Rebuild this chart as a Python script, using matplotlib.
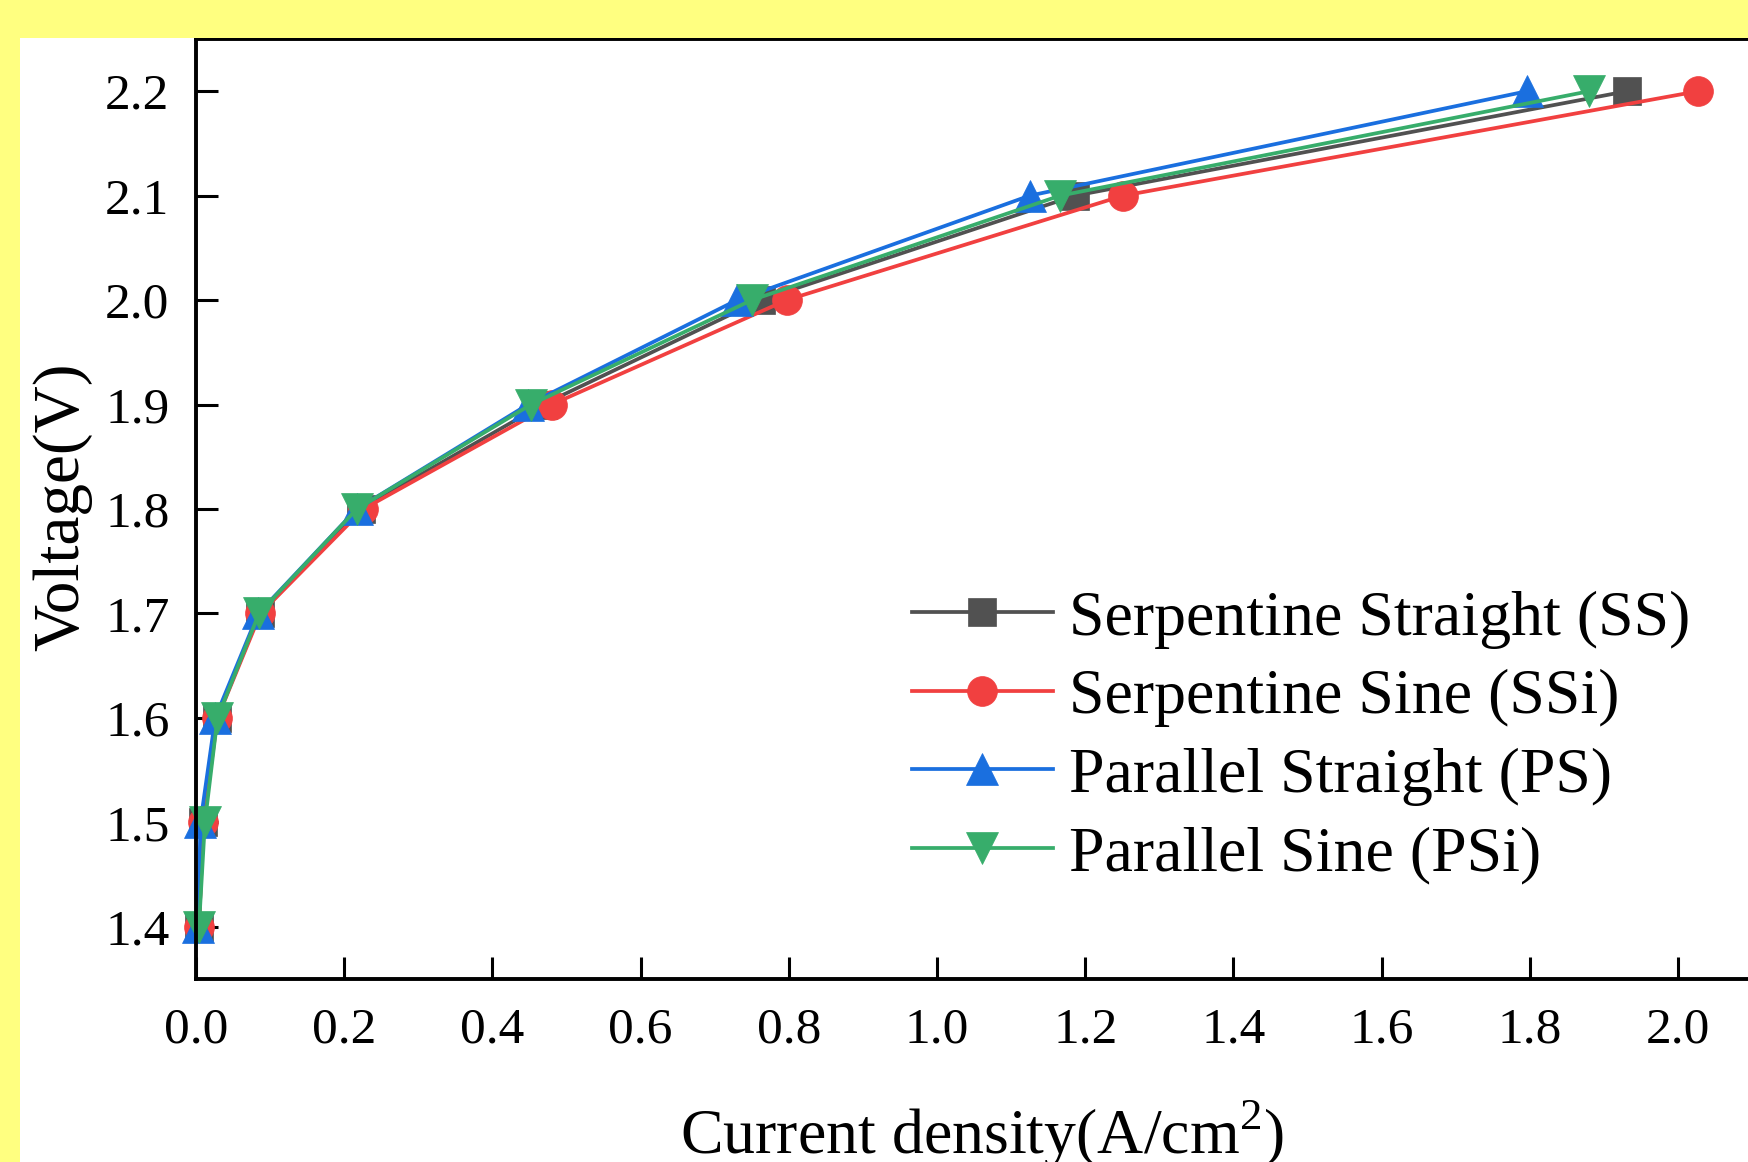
import matplotlib
matplotlib.use("Agg")
import matplotlib.pyplot as plt
from matplotlib.patches import Rectangle

plt.rcParams['font.family'] = ['Liberation Serif', 'DejaVu Serif']
plt.rcParams['mathtext.fontset'] = 'custom'
plt.rcParams['mathtext.rm'] = 'Liberation Serif'

# Polarization curves: voltage steps and current density per flow field
voltage = [1.4, 1.5, 1.6, 1.7, 1.8, 1.9, 2.0, 2.1, 2.2]
j_ss = [0.004, 0.010, 0.028, 0.086, 0.222, 0.468, 0.762, 1.186, 1.931]
j_ssi = [0.004, 0.010, 0.029, 0.087, 0.226, 0.480, 0.797, 1.251, 2.027]
j_ps = [0.003, 0.006, 0.026, 0.084, 0.217, 0.448, 0.730, 1.125, 1.796]
j_psi = [0.004, 0.012, 0.029, 0.085, 0.217, 0.452, 0.750, 1.166, 1.880]

labels = ["Serpentine Straight (SS)", "Serpentine Sine (SSi)",
          "Parallel Straight (PS)", "Parallel Sine (PSi)"]
colors = ["#515151", "#F14040", "#1A6FDF", "#37AD6B"]
markers = ["s", "o", "^", "v"]
msizes = [19.5, 21.5, 23, 23]

xticks = [0.0, 0.2, 0.4, 0.6, 0.8, 1.0, 1.2, 1.4, 1.6, 1.8, 2.0]
yticks = [1.4, 1.5, 1.6, 1.7, 1.8, 1.9, 2.0, 2.1, 2.2]

W, H = 1748, 1162
fig = plt.figure(figsize=(W / 100, H / 100), dpi=100, facecolor="white")

# yellow margin strips along the left and top edges
fig.patches.append(Rectangle((0, 0), 20 / W, 1, transform=fig.transFigure,
                             facecolor="#FFFF80", edgecolor="none", zorder=0))
fig.patches.append(Rectangle((0, 1 - 38 / H), 1, 38 / H, transform=fig.transFigure,
                             facecolor="#FFFF80", edgecolor="none", zorder=0))

left, right = 196 / W, 1767 / W
bottom, top = 1 - 979 / H, 1 - 39 / H
ax = fig.add_axes([left, bottom, right - left, top - bottom])
ax.set_facecolor("none")

for xs, lab, c, m, ms in zip([j_ss, j_ssi, j_ps, j_psi], labels, colors, markers, msizes):
    ax.plot(xs, voltage, color=c, lw=2.7, marker=m, markersize=ms,
            markerfacecolor=c, markeredgecolor=c, markeredgewidth=0.5,
            label=lab, clip_on=False)

ax.set_xlim(0, 2.12)
ax.set_ylim(1.35, 2.25)
ax.set_xticks(xticks)
ax.set_yticks(yticks)
ax.set_xticklabels([f"{v:.1f}" for v in xticks])
ax.set_yticklabels([f"{v:.1f}" for v in yticks])

for side in ["left", "bottom", "top"]:
    ax.spines[side].set_linewidth(2.8)
ax.spines["right"].set_visible(False)

ax.tick_params(axis="both", direction="in", length=16, width=2.2,
               labelsize=37, pad=19)
ax.tick_params(axis="x", pad=20)

ax.set_xlabel(r"Current density(A/cm$^{\mathrm{2}}$)", fontsize=46)
ax.xaxis.label.set_va("baseline")
ax.xaxis.set_label_coords(0.5, (979 - 1154) / 940)

ax.set_ylabel("Voltage(V)", fontsize=47)
ax.yaxis.label.set_va("baseline")
ax.yaxis.set_label_coords((78 - 196) / 1571, 0.502)

leg = ax.legend(loc="upper left", bbox_to_anchor=((912 - 196) / 1571, (979 - 590) / 940),
                frameon=False, fontsize=46, borderpad=0, borderaxespad=0,
                handlelength=2.2, handletextpad=0.26, labelspacing=0.31)

fig.savefig("out.png", dpi=100, facecolor="white")
